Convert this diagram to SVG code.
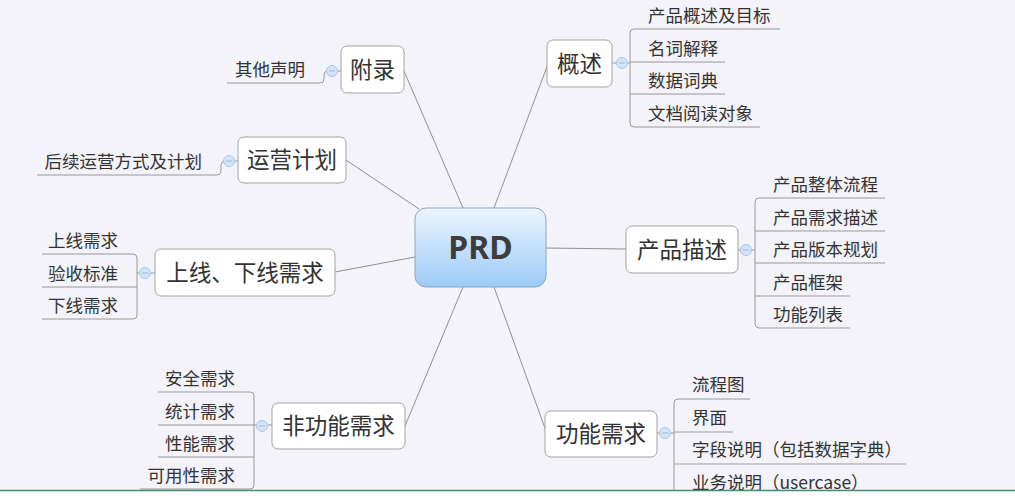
<svg xmlns="http://www.w3.org/2000/svg" width="1015" height="499" viewBox="0 0 1015 499">
<defs>
<linearGradient id="prdg" x1="0" y1="0" x2="0" y2="1">
<stop offset="0" stop-color="#edf5fe"/>
<stop offset="1" stop-color="#9ccbf7"/>
</linearGradient>
<style>
.bg{fill:#f3f3f9}
.conn{stroke:#8f8f8f;stroke-width:1;fill:none}
.ul{stroke:#9a9a9a;stroke-width:1;fill:none}
.box{fill:#ffffff;stroke:#a3a3a3;stroke-width:1}
.main{font-family:"Noto Sans CJK SC","Noto Sans",sans-serif;font-size:22.5px;fill:#333333;text-anchor:middle}
.sub{font-family:"Noto Sans CJK SC","Noto Sans",sans-serif;font-size:17.5px;fill:#333333}
.par{font-family:"Noto Sans CJK TC","Noto Sans CJK SC",sans-serif}
.end{text-anchor:end}
.tog{fill:#d3e4f7;stroke:#a9c7ea;stroke-width:1}
.tgm{stroke:#9fb8d6;stroke-width:1}
</style>
</defs>
<rect class="bg" x="0" y="0" width="1015" height="499"/>

<g id="connectors">
<line class="conn" x1="494" y1="208" x2="548" y2="64"/>
<line class="conn" x1="463" y1="208" x2="404" y2="71"/>
<line class="conn" x1="419" y1="209" x2="346" y2="160"/>
<line class="conn" x1="415" y1="257" x2="335" y2="272"/>
<line class="conn" x1="546" y1="248" x2="626" y2="249"/>
<line class="conn" x1="463" y1="287" x2="405" y2="426"/>
<line class="conn" x1="494" y1="287" x2="546" y2="431"/>
</g>

<g id="prd">
<rect x="415" y="208" width="131" height="79" rx="11" fill="url(#prdg)" stroke="#8fa6bb" stroke-width="1"/>
<text x="480.5" y="259" font-family="'Noto Sans','Open Sans',sans-serif" font-weight="bold" font-size="32" fill="#3d3d3d" text-anchor="middle">PRD</text>
</g>

<g id="gaishu">
<line class="ul" x1="612" y1="63" x2="630" y2="63"/>
<path class="ul" d="M634,29 Q630,29 630,33 V123 Q630,127 634,127"/>
<line class="ul" x1="634" y1="29" x2="780" y2="29"/>
<line class="ul" x1="630" y1="62" x2="725" y2="62"/>
<line class="ul" x1="630" y1="94" x2="725" y2="94"/>
<line class="ul" x1="634" y1="127" x2="760" y2="127"/>
<rect class="box" x="547" y="40" width="65" height="47" rx="6"/>
<text class="main" x="579.5" y="72">概述</text>
<circle class="tog" cx="622" cy="63" r="5.5"/>
<line class="tgm" x1="619" y1="63" x2="625" y2="63"/>
<text class="sub" x="648" y="22">产品概述及目标</text>
<text class="sub" x="648" y="55">名词解释</text>
<text class="sub" x="648" y="87">数据词典</text>
<text class="sub" x="648" y="120">文档阅读对象</text>
</g>

<g id="chanpinmiaoshu">
<line class="ul" x1="738" y1="250" x2="755" y2="250"/>
<path class="ul" d="M759,198 Q755,198 755,202 V324 Q755,328 759,328"/>
<line class="ul" x1="759" y1="198" x2="885" y2="198"/>
<line class="ul" x1="755" y1="231" x2="885" y2="231"/>
<line class="ul" x1="755" y1="263" x2="885" y2="263"/>
<line class="ul" x1="755" y1="296" x2="850" y2="296"/>
<line class="ul" x1="759" y1="328" x2="850" y2="328"/>
<rect class="box" x="626" y="226" width="112" height="47" rx="6"/>
<text class="main" x="682" y="258">产品描述</text>
<circle class="tog" cx="746" cy="250" r="5.5"/>
<line class="tgm" x1="743" y1="250" x2="749" y2="250"/>
<text class="sub" x="773" y="191">产品整体流程</text>
<text class="sub" x="773" y="224">产品需求描述</text>
<text class="sub" x="773" y="256">产品版本规划</text>
<text class="sub" x="773" y="289">产品框架</text>
<text class="sub" x="773" y="321">功能列表</text>
</g>

<g id="gongnengxuqiu">
<line class="ul" x1="657" y1="433" x2="674" y2="433"/>
<path class="ul" d="M678,399 Q674,399 674,403 V493 Q674,497 678,497"/>
<line class="ul" x1="678" y1="399" x2="750" y2="399"/>
<line class="ul" x1="674" y1="432" x2="733" y2="432"/>
<line class="ul" x1="674" y1="464" x2="906" y2="464"/>
<line class="ul" x1="678" y1="497" x2="870" y2="497"/>
<rect class="box" x="545" y="411" width="112" height="46" rx="6"/>
<text class="main" x="601" y="442">功能需求</text>
<circle class="tog" cx="665" cy="433" r="5.5"/>
<line class="tgm" x1="662" y1="433" x2="668" y2="433"/>
<text class="sub" x="692" y="391">流程图</text>
<text class="sub" x="692" y="424">界面</text>
<text class="sub" x="692" y="456">字段说明<tspan class="par">（</tspan>包括数据字典<tspan class="par">）</tspan></text>
<text class="sub" x="692" y="489">业务说明<tspan class="par">（</tspan>usercase<tspan class="par">）</tspan></text>
</g>

<g id="feigongnengxuqiu">
<line class="ul" x1="254" y1="425" x2="272" y2="425"/>
<path class="ul" d="M250,392 Q254,392 254,396 V485 Q254,489 250,489"/>
<line class="ul" x1="158" y1="392" x2="250" y2="392"/>
<line class="ul" x1="158" y1="425" x2="254" y2="425"/>
<line class="ul" x1="158" y1="457" x2="254" y2="457"/>
<line class="ul" x1="140" y1="489" x2="250" y2="489"/>
<rect class="box" x="272" y="403" width="133" height="46" rx="6"/>
<text class="main" x="338.5" y="434">非功能需求</text>
<circle class="tog" cx="262" cy="426" r="5.5"/>
<line class="tgm" x1="259" y1="426" x2="265" y2="426"/>
<text class="sub end" x="235" y="385">安全需求</text>
<text class="sub end" x="235" y="418">统计需求</text>
<text class="sub end" x="235" y="450">性能需求</text>
<text class="sub end" x="235" y="482">可用性需求</text>
</g>

<g id="shangxiaxian">
<line class="ul" x1="137" y1="273" x2="155" y2="273"/>
<path class="ul" d="M133,254 Q137,254 137,258 V315 Q137,319 133,319"/>
<line class="ul" x1="42" y1="254" x2="133" y2="254"/>
<line class="ul" x1="42" y1="287" x2="137" y2="287"/>
<line class="ul" x1="42" y1="319" x2="133" y2="319"/>
<rect class="box" x="155" y="249" width="180" height="47" rx="6"/>
<text class="main" x="245" y="281">上线、下线需求</text>
<circle class="tog" cx="145" cy="273" r="5.5"/>
<line class="tgm" x1="142" y1="273" x2="148" y2="273"/>
<text class="sub end" x="118" y="247">上线需求</text>
<text class="sub end" x="118" y="280">验收标准</text>
<text class="sub end" x="118" y="312">下线需求</text>
</g>

<g id="yunying">
<path class="ul" d="M37,175 H217 Q221,175 221,171 V165 Q221,161 225,161 H238"/>
<rect class="box" x="238" y="137" width="108" height="46" rx="6"/>
<text class="main" x="292" y="168">运营计划</text>
<circle class="tog" cx="229" cy="161" r="5.5"/>
<line class="tgm" x1="226" y1="161" x2="232" y2="161"/>
<text class="sub end" x="202" y="168">后续运营方式及计划</text>
</g>

<g id="fulu">
<path class="ul" d="M227,83 H320 Q324,83 324,79 V75 Q324,71 328,71 H341"/>
<rect class="box" x="341" y="46" width="63" height="47" rx="6"/>
<text class="main" x="372.5" y="78">附录</text>
<circle class="tog" cx="332" cy="71" r="5.5"/>
<line class="tgm" x1="329" y1="71" x2="335" y2="71"/>
<text class="sub end" x="305" y="76">其他声明</text>
</g>

<rect x="0" y="491" width="1015" height="8" fill="#ffffff"/>
<line x1="0" y1="490.5" x2="1015" y2="490.5" stroke="#3f8f70" stroke-width="1.5"/>
</svg>
